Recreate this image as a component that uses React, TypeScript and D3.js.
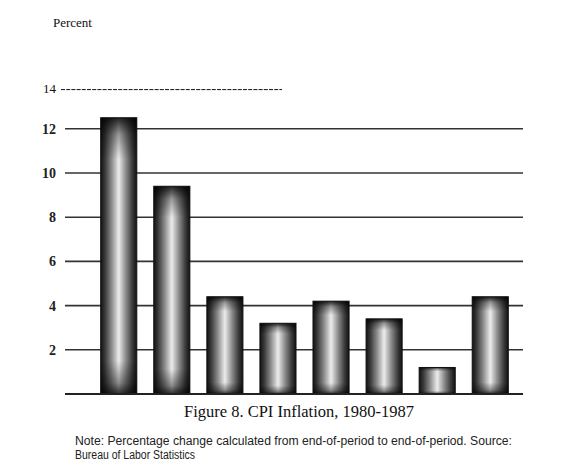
import * as d3 from 'd3';

const years: string[] = ['1980', '1981', '1982', '1983', '1984', '1985', '1986', '1987'];
const inflation: number[] = [12.5, 9.4, 4.4, 3.2, 4.2, 3.4, 1.2, 4.4];
const gridTicks: number[] = [2, 4, 6, 8, 10, 12];
const topTick = 14;

const title = 'Figure 8. CPI Inflation, 1980-1987';
const noteLine1 = 'Note: Percentage change calculated from end-of-period to end-of-period. Source:';
const noteLine2 = 'Bureau of Labor Statistics';

const W = 580, H = 475;

const App = () => {
    const x = d3.scaleBand<string>()
        .domain(years)
        .range([100.7, 508.3])
        .paddingInner(0.32)
        .paddingOuter(0);

    const y = d3.scaleLinear()
        .domain([0, 14])
        .range([394, 84.6]);

    const gridLeft = 65, gridRight = 523;

    return (
        <svg width={W} height={H} style={{ position: 'absolute', left: 0, top: 0, background: '#fff' }}>
            <defs>
                <linearGradient id="barH" x1="0" y1="0" x2="1" y2="0">
                    <stop offset="0%" stopColor="#111" />
                    <stop offset="12%" stopColor="#3a3a3a" />
                    <stop offset="30%" stopColor="#8a8a8a" />
                    <stop offset="50%" stopColor="#ececec" />
                    <stop offset="70%" stopColor="#8a8a8a" />
                    <stop offset="88%" stopColor="#3a3a3a" />
                    <stop offset="100%" stopColor="#111" />
                </linearGradient>
                <linearGradient id="barV" x1="0" y1="0" x2="0" y2="1">
                    <stop offset="0%" stopColor="#000" stopOpacity={0.85} />
                    <stop offset="6%" stopColor="#000" stopOpacity={0.35} />
                    <stop offset="15%" stopColor="#000" stopOpacity={0} />
                    <stop offset="88%" stopColor="#000" stopOpacity={0} />
                    <stop offset="96%" stopColor="#000" stopOpacity={0.4} />
                    <stop offset="100%" stopColor="#000" stopOpacity={0.8} />
                </linearGradient>
            </defs>

            {/* y label */}
            <text x={53} y={27} fontFamily="Liberation Serif" fontSize={13} fill="#111">Percent</text>

            {/* gridlines */}
            {gridTicks.map(t => (
                <g key={t}>
                    <line x1={gridLeft} x2={gridRight} y1={y(t)} y2={y(t)} stroke="#333" strokeWidth={1.6} />
                    <text x={56} y={y(t)} dy="0.35em" textAnchor="end"
                        fontFamily="Liberation Serif" fontWeight="bold" fontSize={14} fill="#222">{t}</text>
                </g>
            ))}

            {/* 14 dashed line */}
            <text x={56} y={y(topTick) + 4} dy="0.35em" textAnchor="end"
                fontFamily="Liberation Serif" fontSize={13} fill="#111">{topTick}</text>
            <line x1={61} x2={282} y1={y(topTick) + 5} y2={y(topTick) + 5}
                stroke="#111" strokeWidth={1} strokeDasharray="4,1.2" />

            {/* bars */}
            {years.map((yr, i) => (
                <g key={yr}>
                    <rect x={x(yr)} y={y(inflation[i])} width={x.bandwidth()} height={y(0) - y(inflation[i])}
                        fill="url(#barH)" />
                    <rect x={x(yr)} y={y(inflation[i])} width={x.bandwidth()} height={y(0) - y(inflation[i])}
                        fill="url(#barV)" stroke="#111" strokeWidth={1} />
                </g>
            ))}

            {/* baseline */}
            <line x1={gridLeft} x2={gridRight} y1={y(0)} y2={y(0)} stroke="#222" strokeWidth={2} />

            {/* title */}
            <text x={299} y={417} textAnchor="middle" fontFamily="Liberation Serif" fontSize={16.5} fill="#111">{title}</text>

            {/* note */}
            <text x={75} y={445} fontFamily="Liberation Sans Narrow, Liberation Sans" fontSize={12} fill="#222"
                textLength={437} lengthAdjust="spacingAndGlyphs">{noteLine1}</text>
            <text x={75} y={458.5} fontFamily="Liberation Sans Narrow, Liberation Sans" fontSize={12} fill="#222"
                textLength={120} lengthAdjust="spacingAndGlyphs">{noteLine2}</text>
        </svg>
    );
};

export default App;
